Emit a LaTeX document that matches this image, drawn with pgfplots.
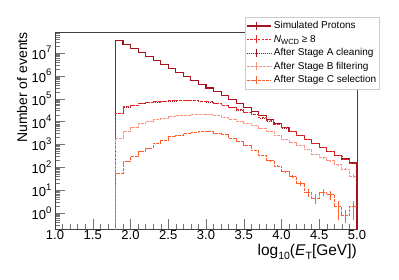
\documentclass[border=0pt]{standalone}
\usepackage{fontspec}
\setmainfont{Liberation Sans}
\usepackage{pgfplots}
\pgfplotsset{compat=1.18}
\usepackage{pgfplotstable}

\definecolor{simcol}{RGB}{165,20,30}
\definecolor{wcdcol}{RGB}{235,40,40}
\definecolor{acol}{RGB}{150,20,35}
\definecolor{bcol}{RGB}{255,145,125}
\definecolor{ccol}{RGB}{255,95,45}

\pgfplotstableread{
x sim nwcd sta stb stc
1.8 0.01 0.01 0.01 0.01 0.01
1.8 3.47e7 22900 22500 1860 55
1.9 2.33e7 44700 44000 3630 178
2.0 1.57e7 52500 51800 5620 288
2.1 1.05e7 63100 62200 7940 479
2.2 7.07e6 69200 68300 9770 676
2.3 4.75e6 74100 73100 12000 1120
2.4 3.19e6 79400 78400 14100 1550
2.5 2.15e6 81300 80200 16200 2190
2.6 1.44e6 83200 82100 18200 2570
2.7 9.69e5 85100 84000 19500 3090
2.8 6.52e5 83200 82100 20900 3390
2.9 4.38e5 79400 78400 21400 3630
3.0 2.94e5 72400 71500 20000 3550
3.1 1.98e5 63100 62300 17800 3160
3.2 1.33e5 51300 50600 14800 2630
3.3 8.93e4 41700 41100 12600 1910
3.4 6.00e4 33100 32600 10500 1410
3.5 4.03e4 26300 25900 8510 955
3.6 2.71e4 20400 20100 6610 525
3.7 1.82e4 14800 14600 5010 331
3.8 1.23e4 11000 10800 3800 191
3.9 8230 7760 7650 2510 112
4.0 5530 5400 5330 1660 63
4.1 3720 3650 3600 1200 40
4.2 2500 2450 2420 891 20
4.3 1680 1650 1630 603 7.9
4.4 1130 1110 1095 380 4.5
4.5 758 745 735 263 8.3
4.6 510 500 494 191 6.3
4.7 342 336 331 132 1.9
4.8 230 226 223 83 0.81
4.9 155 152 150 42 1.9
5.0 155 152 150 42 1.9
5.0 0.01 0.01 0.01 0.01 0.01
}\hist

\pgfplotstableread{
x y ep em
3.75 331 18 18
3.85 191 14 14
3.95 112 10.6 10.6
4.05 63 7.9 7.9
4.15 40 6.3 6.3
4.25 20 4.5 4.5
4.35 7.9 2.8 2.8
4.45 4.5 2.1 2.1
4.55 8.3 2.9 2.9
4.65 6.3 2.5 2.5
4.75 1.9 1.4 1.4
4.85 0.81 0.5 0.45
4.95 1.9 1.4 1.4
}\errc

\pgfplotstableread{
x y ep em
4.55 263 16 16
4.65 191 14 14
4.75 132 11.5 11.5
4.85 83 9.1 9.1
4.95 42 6.5 6.5
}\errb

\newcommand\pw[1]{10\raisebox{0.5em}{\fontsize{9.5}{9.5}\selectfont #1}}

\begin{document}
\begin{tikzpicture}
\useasboundingbox (0,0) rectangle (399pt,279pt);
\begin{axis}[
  at={(55pt,50pt)}, anchor=south west, scale only axis,
  width=302pt, height=197pt,
  ymode=log, xmin=1, xmax=5, ymin=0.2, ymax=8.3e7,
  xtick={1,1.5,2,2.5,3,3.5,4,4.5,5},
  minor x tick num=4,
  ytick={1,10,100,1000,10000,100000,1000000,10000000},
  yticklabels={\pw{0},\pw{1},\pw{2},\pw{3},\pw{4},\pw{5},\pw{6},\pw{7}},
  minor ytick={0.2,0.3,0.4,0.5,0.6,0.7,0.8,0.9,
    2,3,4,5,6,7,8,9,20,30,40,50,60,70,80,90,
    200,300,400,500,600,700,800,900,
    2000,3000,4000,5000,6000,7000,8000,9000,
    2e4,3e4,4e4,5e4,6e4,7e4,8e4,9e4,
    2e5,3e5,4e5,5e5,6e5,7e5,8e5,9e5,
    2e6,3e6,4e6,5e6,6e6,7e6,8e6,9e6,
    2e7,3e7,4e7,5e7,6e7,7e7,8e7},
  tick align=inside, xtick pos=bottom, ytick pos=left,
  major tick length=10pt, minor tick length=5pt,
  axis line style={black!75},
  every tick/.style={black!55},
  tick label style={font=\fontsize{13}{13}\selectfont},
  xticklabel style={yshift=2pt, /pgf/number format/.cd, fixed, fixed zerofill, precision=1, assume math mode=true},
  xlabel={log\raisebox{-0.25em}{\fontsize{10.5}{10.5}\selectfont 10}(\textit{E}\raisebox{-0.25em}{\fontsize{10.5}{10.5}\selectfont T}[GeV])},
  xlabel style={at={(axis description cs:1,-0.117)}, anchor=east, font=\fontsize{15.5}{15.5}\selectfont, inner sep=0pt},
  ylabel={Number of events},
  ylabel style={at={(axis description cs:-0.109,1)}, anchor=east, font=\fontsize{14}{14}\selectfont, inner sep=0pt},
  legend image code/.code={
    \path (0pt,0pt) -- (24.7pt,0pt);
    \draw[#1] (0pt,0pt) -- (20pt,0pt);
    \draw[#1,solid] (10pt,-4pt) -- (10pt,4pt);},
  legend cell align=left,
  legend style={at={(axis description cs:0.629,1.076)}, anchor=north west,
    draw=black!20, fill=white, inner xsep=1pt, inner ysep=2pt,
    font=\fontsize{10}{10}\selectfont,
    nodes={inner xsep=2pt, inner ysep=1.5pt, text height=8pt, text depth=2.5pt}},
]
\addplot[simcol, line width=1.1pt, const plot, forget plot] table[x=x, y=sim]{\hist};
\addplot[acol, line width=0.6pt, dash pattern=on 0.8pt off 1.2pt, const plot, forget plot] table[x=x, y=sta]{\hist};
\addplot[wcdcol, line width=0.9pt, dash pattern=on 2.5pt off 1.2pt, const plot, forget plot] table[x=x, y=nwcd]{\hist};
\addplot[bcol, line width=0.8pt, dash pattern=on 3pt off 1pt, const plot, forget plot] table[x=x, y=stb]{\hist};
\addplot[ccol, line width=0.8pt, dash pattern=on 3pt off 0.8pt, const plot, forget plot] table[x=x, y=stc]{\hist};
\addplot[bcol, only marks, mark=*, mark size=0pt, forget plot,
  error bars/.cd, y dir=both, y explicit, error mark=none,
  error bar style={bcol, line width=0.8pt, solid}]
  table[x=x, y=y, y error plus=ep, y error minus=em]{\errb};
\addplot[ccol, only marks, mark=*, mark size=0pt, forget plot,
  error bars/.cd, y dir=both, y explicit, error mark=none,
  error bar style={ccol, line width=0.8pt, solid}]
  table[x=x, y=y, y error plus=ep, y error minus=em]{\errc};

\addlegendimage{simcol, line width=1.1pt}
\addlegendentry{Simulated Protons}
\addlegendimage{wcdcol, line width=0.8pt, dash pattern=on 2.5pt off 1.2pt}
\addlegendentry{\textit{N}\raisebox{-0.25em}{\fontsize{7.5}{7.5}\selectfont WCD} ≥ 8}
\addlegendimage{acol, line width=0.6pt, dash pattern=on 0.8pt off 1.2pt}
\addlegendentry{After Stage A cleaning}
\addlegendimage{bcol, line width=0.8pt, dash pattern=on 3pt off 1pt}
\addlegendentry{After Stage B filtering}
\addlegendimage{ccol, line width=0.8pt, dash pattern=on 3pt off 0.8pt}
\addlegendentry{After Stage C selection}
\end{axis}
\end{tikzpicture}
\end{document}
